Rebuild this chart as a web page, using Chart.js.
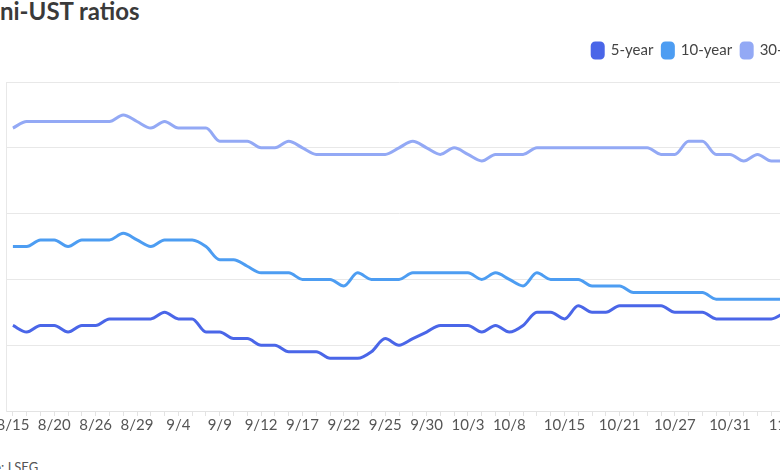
<!DOCTYPE html>
<html>
<head>
<meta charset="utf-8">
<script src="https://cdn.jsdelivr.net/npm/chart.js@4.4.1/dist/chart.umd.min.js"></script>
<style>
  html, body { margin: 0; padding: 0; background: #fff; overflow: hidden; }
  body { width: 780px; height: 470px; position: relative; font-family: Lato, "Noto Sans", sans-serif; }
  .title { position: absolute; left: -36px; top: -4px; font-size: 24px; font-weight: 700; color: #3a3a3a; white-space: nowrap; }
  .wrap { position: absolute; left: -50px; top: 34px; width: 870px; height: 410px; }
  .source { position: absolute; left: -38px; top: 459px; font-size: 13px; color: #555; white-space: nowrap; }
</style>
</head>
<body>
<div class="title">Muni-UST ratios</div>
<div class="wrap"><canvas id="chart"></canvas></div>
<div class="source">Source: LSEG</div>

<script>
// trading days shown on the x axis
const dates = [
  '8/15', '8/18', '8/19', '8/20', '8/21', '8/22', '8/26', '8/27', '8/28', '8/29',
  '9/2', '9/3', '9/4', '9/5', '9/8', '9/9', '9/10', '9/11', '9/12', '9/15',
  '9/16', '9/17', '9/18', '9/19', '9/22', '9/23', '9/24', '9/25', '9/26', '9/29',
  '9/30', '10/1', '10/2', '10/3', '10/6', '10/7', '10/8', '10/9', '10/10', '10/14',
  '10/15', '10/16', '10/17', '10/20', '10/21', '10/22', '10/23', '10/24', '10/27', '10/28',
  '10/29', '10/30', '10/31', '11/3', '11/4', '11/5', '11/6'
];
const tickLabels = ['8/15', '8/20', '8/26', '8/29', '9/4', '9/9', '9/12', '9/17', '9/22', '9/25',
  '9/30', '10/3', '10/8', '10/15', '10/21', '10/27', '10/31', '11/6'];

// ratios, %
const fiveYear = [
  63, 62, 63, 63, 62, 63, 63, 64, 64, 64,
  64, 65, 64, 64, 62, 62, 61, 61, 60, 60,
  59, 59, 59, 58, 58, 58, 59, 61, 60, 61,
  62, 63, 63, 63, 62, 63, 62, 63, 65, 65,
  64, 66, 65, 65, 66, 66, 66, 66, 65, 65,
  65, 64, 64, 64, 64, 64, 65
];
const tenYear = [
  75, 75, 76, 76, 75, 76, 76, 76, 77, 76,
  75, 76, 76, 76, 75, 73, 73, 72, 71, 71,
  71, 70, 70, 70, 69, 71, 70, 70, 70, 71,
  71, 71, 71, 71, 70, 71, 70, 69, 71, 70,
  70, 70, 69, 69, 69, 68, 68, 68, 68, 68,
  68, 67, 67, 67, 67, 67, 67
];
const thirtyYear = [
  93, 94, 94, 94, 94, 94, 94, 94, 95, 94,
  93, 94, 93, 93, 93, 91, 91, 91, 90, 90,
  91, 90, 89, 89, 89, 89, 89, 89, 90, 91,
  90, 89, 90, 89, 88, 89, 89, 89, 90, 90,
  90, 90, 90, 90, 90, 90, 90, 89, 89, 91,
  91, 89, 89, 88, 89, 88, 88
];
const yTicks = [50, 60, 70, 80, 90, 100];

const seriesNames = ['5-year', '10-year', '30-year'];
const colors = ['#4a66e8', '#4d9df2', '#93a9f5'];

// push the plot down a little below the legend
const legendGap = {
  id: 'legendGap',
  beforeInit(chart) {
    const fit = chart.legend.fit;
    chart.legend.fit = function () {
      fit.bind(chart.legend)();
      this.height += 14;
    };
  },
};

const ctx = document.getElementById('chart');

new Chart(ctx, {
  type: 'line',
  data: {
    labels: dates,
    datasets: [fiveYear, tenYear, thirtyYear].map((vals, i) => ({
      label: seriesNames[i],
      data: vals,
      borderColor: colors[i],
      backgroundColor: colors[i],
      borderWidth: 3,
      pointRadius: 0,
      cubicInterpolationMode: 'monotone',
    })),
  },
  options: {
    responsive: true,
    maintainAspectRatio: false,
    animation: false,
    layout: { padding: { top: 0, right: 0, bottom: 10, left: 0 } },
    plugins: {
      legend: {
        position: 'top',
        align: 'end',
        labels: {
          boxWidth: 11,
          boxHeight: 15,
          padding: 9,
          useBorderRadius: true,
          borderRadius: 3,
          color: '#444',
          font: { family: 'Lato', size: 15 },
        },
      },
      tooltip: { enabled: false },
    },
    scales: {
      x: {
        offset: true,
        grid: { drawOnChartArea: false, color: '#e3e3e3', tickLength: 5 },
        border: { color: '#e3e3e3' },
        ticks: {
          autoSkip: false,
          maxRotation: 0,
          padding: 0,
          color: '#555',
          font: { family: 'Lato', size: 15 },
          callback: function (value) {
            const lab = this.getLabelForValue(value);
            return tickLabels.includes(lab) ? lab : '';
          },
        },
      },
      y: {
        min: yTicks[0],
        max: yTicks[yTicks.length - 1],
        afterFit: (scale) => { scale.width = 56; },
        afterBuildTicks: (scale) => { scale.ticks = yTicks.map((v) => ({ value: v })); },
        grid: { color: '#e8e8e8', drawTicks: false },
        border: { color: '#e8e8e8' },
        ticks: { padding: 8, color: '#555', font: { family: 'Lato', size: 15 } },
      },
      yRight: {
        position: 'right',
        afterFit: (scale) => { scale.width = 28; },
        grid: { display: false },
        border: { display: false },
        ticks: { display: false },
      },
    },
  },
  plugins: [legendGap],
});
</script>
</body>
</html>
